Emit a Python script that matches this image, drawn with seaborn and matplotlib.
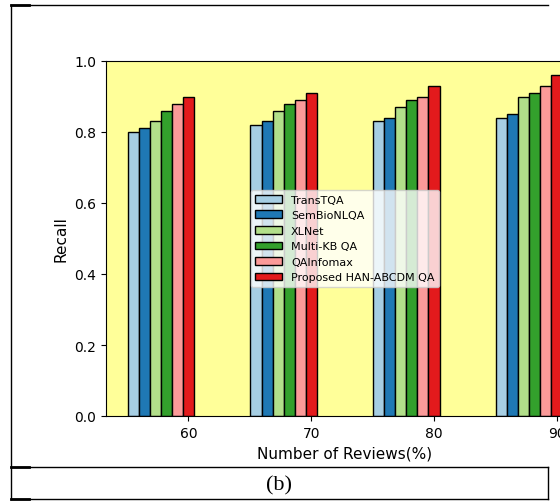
import numpy as np
import pandas as pd
import matplotlib
matplotlib.use("Agg")
import matplotlib.pyplot as plt
import seaborn as sns
from matplotlib.lines import Line2D

# 数据
reviews = [60, 70, 80, 90]
methods = ["TransTQA", "SemBioNLQA", "XLNet", "Multi-KB QA", "QAInfomax",
           "Proposed HAN-ABCDM QA"]
trans_tqa = [0.80, 0.82, 0.83, 0.84]
sem_bio_nlqa = [0.81, 0.83, 0.84, 0.85]
xlnet = [0.83, 0.86, 0.87, 0.90]
multi_kb_qa = [0.86, 0.88, 0.89, 0.91]
qa_infomax = [0.88, 0.89, 0.90, 0.93]
proposed = [0.90, 0.91, 0.93, 0.96]

W, H = 560, 502
BAR_W = 0.9


def px(x, y):
    # 像素坐标 -> figure 坐标
    return x / W, 1 - y / H


plt.rcParams["font.family"] = ["DejaVu Sans"]

series = [trans_tqa, sem_bio_nlqa, xlnet, multi_kb_qa, qa_infomax, proposed]
rows = []
for i, (name, vals) in enumerate(zip(methods, series)):
    # 最后一根柱子对齐刻度
    offset = (i - (len(methods) - 1)) * BAR_W
    for r, v in zip(reviews, vals):
        rows.append({"pos": r + offset, "recall": v, "method": name})
df = pd.DataFrame(rows)

palette = sns.color_palette("Paired", len(methods))

fig = plt.figure(figsize=(W / 100, H / 100), dpi=100)
x0, y0 = px(106, 417)
x1, y1 = px(584, 62)
ax = fig.add_axes([x0, y0, x1 - x0, y1 - y0])
ax.set_facecolor("#ffff99")

sns.barplot(data=df, x="pos", y="recall", hue="method", hue_order=methods,
            palette=palette, native_scale=True, dodge=False, width=1.0,
            saturation=1, edgecolor="black", linewidth=1.0, ax=ax)

lo = df["pos"].min() - BAR_W / 2
hi = df["pos"].max() + BAR_W / 2
pad = 0.05 * (hi - lo)
ax.set_xlim(lo - pad, hi + pad)
ax.set_ylim(0, 1.0)
ax.set_xticks(reviews)
ax.set_xticklabels([str(r) for r in reviews])
ax.tick_params(labelsize=10)
ax.set_xlabel("Number of Reviews(%)", fontsize=11)
ax.set_ylabel("Recall", fontsize=11)

sns.move_legend(ax, "center", title=None, fontsize=8, handlelength=2.4)

# 表格边框
def hline(y, xa, xb, lw=1.0):
    fig.add_artist(Line2D([xa / W, xb / W], [1 - y / H, 1 - y / H],
                          transform=fig.transFigure, color="black", lw=lw))


def vline(x, ya, yb, lw=1.0):
    fig.add_artist(Line2D([x / W, x / W], [1 - ya / H, 1 - yb / H],
                          transform=fig.transFigure, color="black", lw=lw))


for yy in [5.5, 468, 499.5]:
    hline(yy, 11, 548)
    hline(yy, 11, 29, lw=2.0)
vline(11.3, 5.5, 499.5)
vline(548, 468, 499.5)

tx, ty = px(279, 486)
fig.text(tx, ty, "(b)", ha="center", va="center", fontsize=16,
         family=["Liberation Serif", "DejaVu Serif"])

fig.savefig("out.png", dpi=100)
